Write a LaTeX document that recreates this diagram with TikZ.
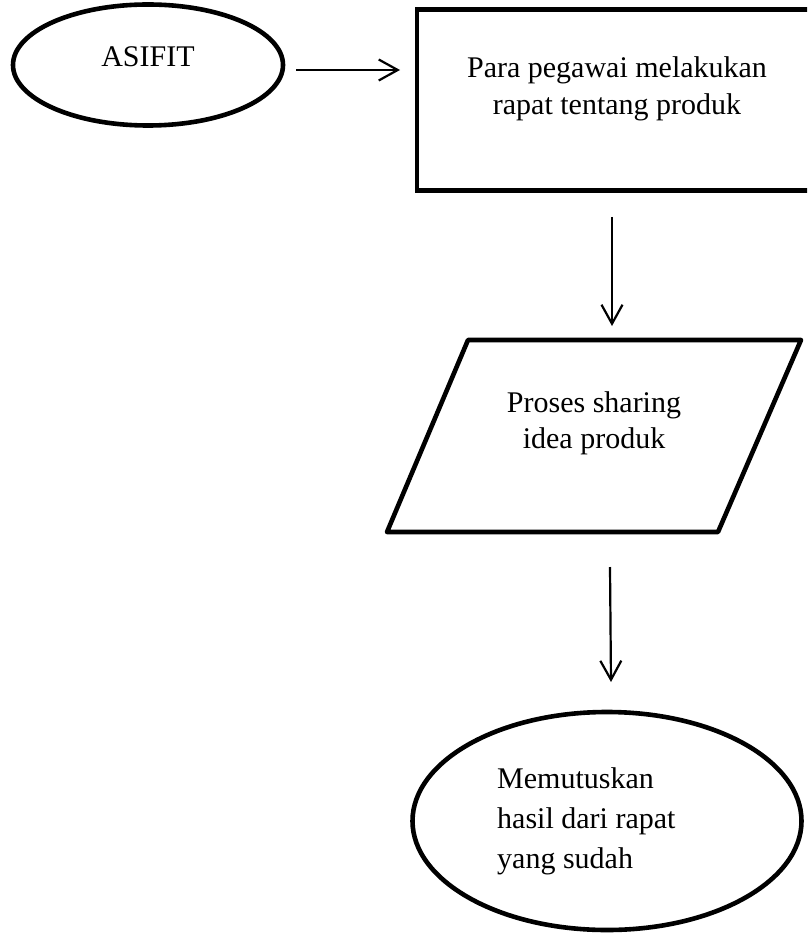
\documentclass[tikz,border=0pt]{standalone}
\usepackage{fontspec}
\setmainfont{Liberation Serif}
\usetikzlibrary{shapes.geometric,arrows.meta}
\begin{document}
\begin{tikzpicture}[x=1pt,y=-1pt,
  shapeline/.style={draw=black,line width=4.6pt},
  txt/.style={inner sep=0pt,anchor=base,font=\fontsize{30}{36}\selectfont},
  txtl/.style={txt,anchor=base west},
  arr/.style={draw=black,line width=2.2pt,-{Straight Barb[length=19pt,width=21pt,line width=2.2pt]}}]
\useasboundingbox (0,0) rectangle (807,933);
\clip (0,0) rectangle (807,933);
\fill[white] (0,0) rectangle (807,933);

% start ellipse
\node[shapeline,ellipse,minimum width=270pt,minimum height=121pt,inner sep=0pt] (start) at (148,65) {};
\node[txt] (starttext) at (148,67) {ASIFIT};

% meeting box (runs past the right border)
\node[shapeline,rectangle,minimum width=400pt,minimum height=181pt,inner sep=0pt] (meet) at (617,100) {};
\node[txt] (meet1) at (617,78) {Para pegawai melakukan};
\node[txt] (meet2) at (617,115) {rapat tentang produk};

% sharing parallelogram
\coordinate (ptl) at (468,340);
\coordinate (ptr) at (801,340);
\coordinate (pbr) at (718,532);
\coordinate (pbl) at (387,532);
\draw[shapeline,line join=round] (ptl) -- (ptr) -- (pbr) -- (pbl) -- cycle;
\node[txt] (share1) at (594,412) {Proses sharing};
\node[txt] (share2) at (594,448) {idea produk};

% decision ellipse
\node[shapeline,ellipse,minimum width=389pt,minimum height=218pt,inner sep=0pt] (decide) at (607,821) {};
\node[txtl] (dec1) at (497,788) {Memutuskan};
\node[txtl] (dec2) at (497,828) {hasil dari rapat};
\node[txtl] (dec3) at (497,868) {yang sudah};

% connectors
\coordinate (a1s) at (296,70);
\coordinate (a1e) at (400,70);
\coordinate (a2s) at (612,217);
\coordinate (a2e) at (612,326);
\coordinate (a3s) at (610,567);
\coordinate (a3e) at (611,682);
\draw[arr] (a1s) -- (a1e);
\draw[arr] (a2s) -- (a2e);
\draw[arr] (a3s) -- (a3e);
\end{tikzpicture}
\end{document}
